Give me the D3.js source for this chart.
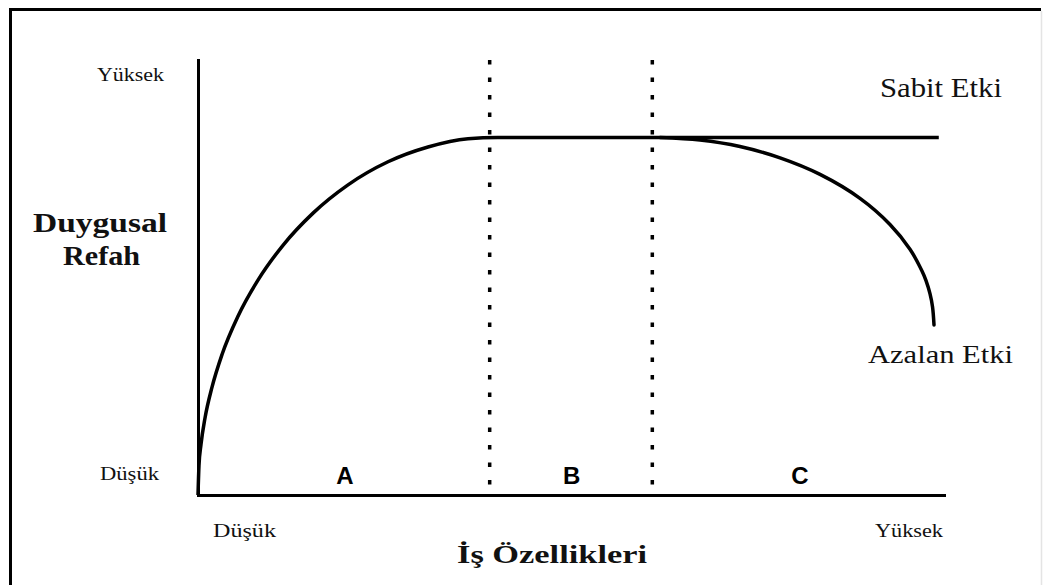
<!DOCTYPE html>
<html>
<head>
<meta charset="utf-8">
<script src="https://cdn.jsdelivr.net/npm/d3@7"></script>
<style>
  body { margin: 0; background: #fff; }
  svg { display: block; }
</style>
</head>
<body>
<div id="chart"></div>
<script>
// curve values (x: job features 0-100, y: wellbeing 0-100)
let riseX = [0, 0.13, 0.40, 0.94, 1.88, 3.22, 5.36, 8.04, 11.39, 15.42, 20.11, 25.47, 30.83, 36.19, 40.21, 60, 99.3];
let riseY = [0, 6.7, 11.6, 17.7, 24.8, 32.3, 41.1, 49.4, 57.4, 64.8, 71.3, 76.6, 80.0, 81.9, 82.2, 82.2, 82.2];

let fallX = [61.93, 67.29, 72.65, 78.02, 83.38, 88.74, 92.76, 95.44, 97.05, 97.59, 98.12, 98.46, 98.66];
let fallY = [82.2, 81.6, 80.1, 77.5, 73.7, 68.2, 62.2, 56.5, 51.5, 49.3, 46.3, 43.3, 39.1];

let boundaries = [39.1, 60.9];
let regions = ["A", "B", "C"];
let regionMid = [19.7, 50.1, 80.7];

let lowHigh = ["Düşük", "Yüksek"];
let curveNames = ["Sabit Etki", "Azalan Etki"];
let yTitle = ["Duygusal", "Refah"];
let xTitle = "İş Özellikleri";

let width = 1044;
let height = 585;

let svg = d3.select("#chart")
  .append("svg")
  .attr("width", width)
  .attr("height", height)

// frame
svg.append("line").attr("x1", 9).attr("x2", 1041).attr("y1", 9.5).attr("y2", 9.5)
  .attr("stroke", "#000").attr("stroke-width", 3)
svg.append("line").attr("x1", 10.5).attr("x2", 10.5).attr("y1", 8).attr("y2", height)
  .attr("stroke", "#000").attr("stroke-width", 3)
svg.append("line").attr("x1", 1041.5).attr("x2", 1041.5).attr("y1", 11).attr("y2", height)
  .attr("stroke", "#e4e4e4").attr("stroke-width", 1.5)

let xScale = d3.scaleLinear().domain([0, 100]).range([198, 944])
let yScale = d3.scaleLinear().domain([0, 100]).range([495, 60])

let xAxis = d3.axisBottom(xScale).tickValues([]).tickSizeOuter(0)
let yAxis = d3.axisLeft(yScale).tickValues([]).tickSizeOuter(0)

svg.append("g")
  .attr("transform", `translate(0,${yScale(0)})`)
  .call(xAxis)
svg.append("g")
  .attr("transform", `translate(${xScale(0)},0)`)
  .call(yAxis)

svg.selectAll(".domain")
  .attr("stroke", "#000")
  .attr("stroke-width", 3)
  .attr("stroke-linecap", "square")

// dotted region boundaries
svg.selectAll(".bound")
  .data(boundaries)
  .enter()
  .append("line")
  .attr("class", "bound")
  .attr("x1", d => xScale(d))
  .attr("x2", d => xScale(d))
  .attr("y1", yScale(100))
  .attr("y2", yScale(0))
  .attr("stroke", "#000")
  .attr("stroke-width", 3.5)
  .attr("stroke-dasharray", "4.5,13")

let line = d3.line()
  .x(d => xScale(d[0]))
  .y(d => yScale(d[1]))
  .curve(d3.curveMonotoneX)

let smooth = d3.line()
  .x(d => xScale(d[0]))
  .y(d => yScale(d[1]))
  .curve(d3.curveCatmullRom.alpha(0.5))

svg.append("path")
  .datum(riseX.map((x, i) => [x, riseY[i]]))
  .attr("d", line)
  .attr("fill", "none")
  .attr("stroke", "#000")
  .attr("stroke-width", 3.5)

svg.append("path")
  .datum(fallX.map((x, i) => [x, fallY[i]]))
  .attr("d", smooth)
  .attr("fill", "none")
  .attr("stroke", "#000")
  .attr("stroke-width", 3.5)
  .attr("stroke-linecap", "round")

// region letters
svg.selectAll(".region")
  .data(regions)
  .enter()
  .append("text")
  .attr("class", "region")
  .attr("x", (d, i) => xScale(regionMid[i]))
  .attr("y", 484)
  .attr("text-anchor", "middle")
  .style("font-family", "'Liberation Sans', Arial, sans-serif")
  .style("font-weight", "bold")
  .style("font-size", "24px")
  .text(d => d)

function label(txt, x, y, size, len, bold) {
  svg.append("text")
    .attr("x", x)
    .attr("y", y)
    .attr("textLength", len)
    .attr("lengthAdjust", "spacingAndGlyphs")
    .style("font-family", "'Liberation Serif', 'Times New Roman', serif")
    .style("font-weight", bold ? "bold" : "normal")
    .style("font-size", size + "px")
    .style("fill", "#111")
    .text(txt)
}

// axis end labels
label(lowHigh[1], 97, 81, 19, 67)
label(lowHigh[0], 100, 480, 18, 59)
label(lowHigh[0], 213, 537, 18, 63)
label(lowHigh[1], 875, 537, 18, 68)

// titles
label(yTitle[0], 33, 232, 27, 134, true)
label(yTitle[1], 63, 265, 27, 77, true)
label(xTitle, 457, 563, 25, 190, true)

// curve names
label(curveNames[0], 880, 97, 27, 122)
label(curveNames[1], 868, 363, 26, 145)
</script>
</body>
</html>
